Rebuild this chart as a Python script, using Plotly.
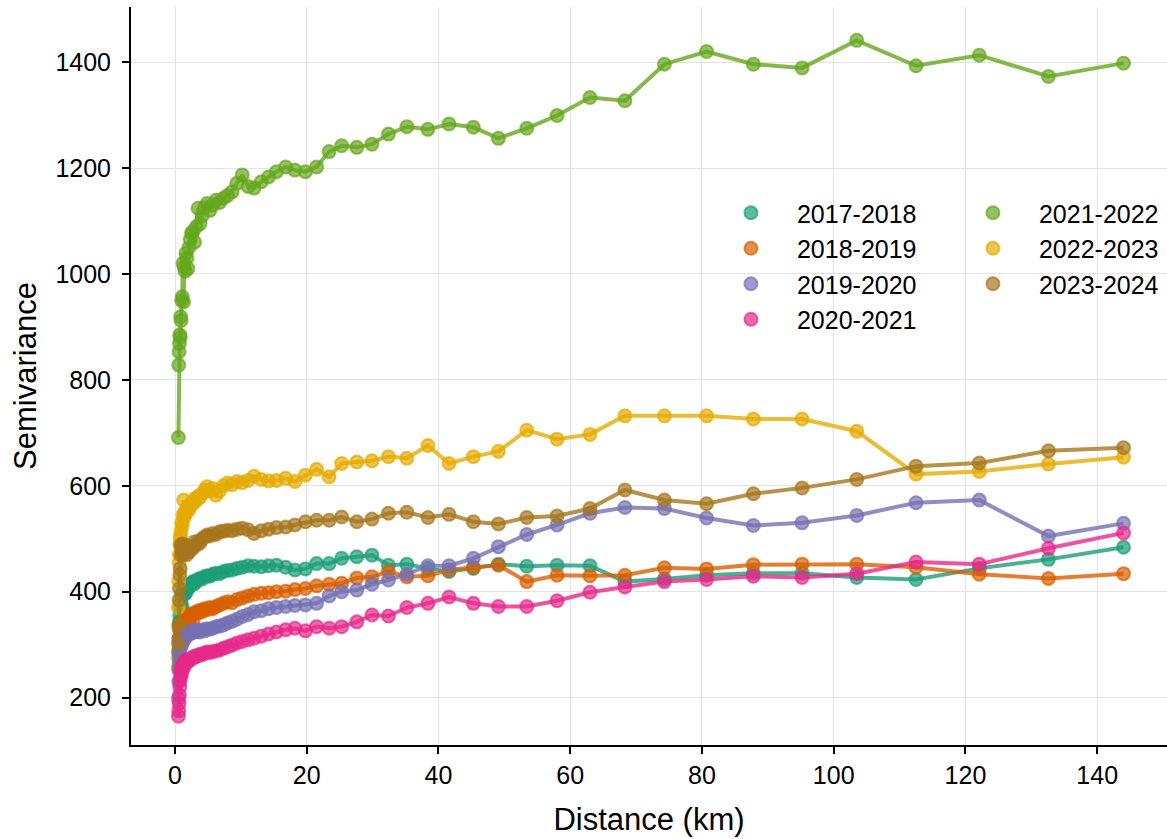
import plotly.graph_objects as go

# Lag-bin centres (km) shared by every season
distance_km = [
    0.52, 0.57, 0.62, 0.67, 0.73, 0.79, 0.86, 0.93, 1.01, 1.10,
    1.20, 1.30, 1.41, 1.53, 1.66, 1.81, 1.96, 2.13, 2.31, 2.51,
    2.73, 2.96, 3.22, 3.49, 3.79, 4.12, 4.47, 4.86, 5.28, 5.73,
    6.22, 6.76, 7.34, 7.97, 8.66, 9.40, 10.2, 11.1, 12.0, 13.1,
    14.2, 15.4, 16.8, 18.2, 19.8, 21.5, 23.4, 25.3, 27.6, 29.9,
    32.4, 35.2, 38.4, 41.6, 45.3, 49.1, 53.4, 58.0, 63.0, 68.3,
    74.3, 80.7, 87.8, 95.2, 103.5, 112.5, 122.1, 132.6, 144.0,
]

season_labels = ["2017-2018", "2018-2019", "2019-2020", "2020-2021",
                 "2021-2022", "2022-2023", "2023-2024"]

sv_2017_2018 = [
    286, 312, 330, 343, 355, 340, 368, 380, 395, 370,
    400, 406, 395, 402, 398, 405, 410, 408, 412, 416,
    419, 415, 420, 423, 425, 424, 428, 430, 429, 433,
    435, 434, 438, 440, 441, 444, 446, 449, 448, 447,
    449, 450, 446, 441, 443, 453, 453, 463, 466, 469,
    450, 452, 444, 438, 444, 452, 448, 450, 449, 419,
    424, 431, 435, 435, 427, 423, 444, 461, 484,
]
sv_2018_2019 = [
    255, 275, 293, 312, 300, 325, 331, 318, 335, 340,
    330, 345, 338, 350, 343, 352, 347, 355, 350, 358,
    345, 359, 362, 360, 365, 362, 368, 366, 370, 368,
    372, 375, 378, 381, 379, 385, 388, 392, 395, 397,
    398, 400, 401, 404, 406, 411, 414, 416, 426, 428,
    438, 428, 430, 441, 446, 450, 419, 431, 430, 431,
    445, 443, 451, 452, 452, 446, 433, 425, 434,
]
sv_2019_2020 = [
    198, 230, 264, 250, 280, 290, 305, 298, 310, 302,
    315, 308, 318, 312, 322, 324, 318, 320, 325, 322,
    326, 324, 328, 325, 324, 328, 326, 330, 329, 331,
    334, 335, 337, 341, 344, 348, 353, 357, 362, 364,
    368, 370, 372, 374, 375, 378, 392, 400, 403, 414,
    422, 433, 449, 449, 463, 485, 508, 526, 548, 559,
    557, 539, 525, 530, 544, 568, 573, 505, 529,
]
sv_2020_2021 = [
    165, 175, 189, 205, 220, 232, 240, 252, 245, 258,
    262, 255, 266, 270, 265, 271, 268, 272, 271, 274,
    276, 278, 277, 280, 282, 281, 284, 286, 285, 287,
    288, 290, 293, 296, 299, 303, 306, 309, 312, 316,
    320, 324, 328, 331, 326, 334, 331, 334, 343, 356,
    354, 370, 378, 390, 378, 372, 372, 383, 399, 409,
    419, 423, 429, 427, 434, 456, 452, 482, 511,
]
sv_2021_2022 = [
    691, 828, 853, 869, 885, 880, 919, 912, 950, 957,
    1020, 947, 1013, 1005, 1039, 1030, 1010, 1050, 1065, 1077,
    1080, 1060, 1089, 1124, 1095, 1110, 1125, 1133, 1120, 1130,
    1139, 1135, 1143, 1148, 1155, 1171, 1187, 1165, 1162, 1174,
    1183, 1193, 1202, 1196, 1193, 1202, 1231, 1242, 1239, 1245,
    1264, 1278, 1273, 1283, 1277, 1256, 1275, 1299, 1333, 1327,
    1396, 1420, 1396, 1389, 1441, 1393, 1413, 1373, 1398,
]
sv_2022_2023 = [
    370, 420, 455, 470, 490, 505, 500, 515, 530, 525,
    545, 573, 540, 552, 548, 556, 560, 555, 562, 568,
    566, 575, 572, 580, 578, 585, 592, 598, 590, 595,
    582, 590, 600, 605, 602, 608, 606, 610, 618, 612,
    609, 610, 614, 608, 620, 631, 617, 642, 645, 647,
    655, 652, 676, 642, 655, 665, 705, 688, 697, 732,
    732, 732, 726, 726, 703, 622, 627, 641, 654,
]
sv_2023_2024 = [
    302, 337, 384, 406, 432, 444, 488, 469, 480, 490,
    470, 485, 475, 488, 478, 470, 482, 475, 480, 485,
    482, 494, 488, 495, 492, 500, 503, 507, 505, 510,
    508, 513, 514, 516, 515, 518, 520, 517, 510, 515,
    518, 521, 522, 526, 532, 535, 535, 541, 532, 537,
    548, 550, 540, 546, 532, 528, 540, 543, 557, 592,
    573, 566, 585, 596, 612, 637, 643, 666, 672,
]

season_values = [sv_2017_2018, sv_2018_2019, sv_2019_2020, sv_2020_2021,
                 sv_2021_2022, sv_2022_2023, sv_2023_2024]

# Dark2 qualitative palette
season_colors = ["#1b9e77", "#d95f02", "#7570b3", "#e7298a",
                 "#66a61e", "#e6ab02", "#a6761d"]


def rgba(hex_color, alpha):
    h = hex_color.lstrip("#")
    r, g, b = int(h[0:2], 16), int(h[2:4], 16), int(h[4:6], 16)
    return f"rgba({r},{g},{b},{alpha})"


FONT = "Liberation Sans, Arial, Helvetica, sans-serif"

fig = go.Figure()

for label, vals, col in zip(season_labels, season_values, season_colors):
    fig.add_trace(go.Scatter(
        x=distance_km, y=vals, mode="lines+markers", name=label,
        line=dict(color=rgba(col, 0.8), width=4),
        marker=dict(size=13, color=rgba(col, 0.7),
                    line=dict(color=rgba(col, 0.7), width=2)),
        showlegend=False,
    ))

# Marker-only legend entries, split into two columns
for i, (label, col) in enumerate(zip(season_labels, season_colors)):
    fig.add_trace(go.Scatter(
        x=[None], y=[None], mode="markers", name=label,
        marker=dict(size=13, color=rgba(col, 0.7),
                    line=dict(color=rgba(col, 0.7), width=2)),
        showlegend=True,
        legend="legend" if i < 4 else "legend2",
    ))

legend_style = dict(
    font=dict(family=FONT, size=25, color="#000000"),
    bgcolor="rgba(0,0,0,0)", borderwidth=0,
    yanchor="top", xanchor="left", itemwidth=82,
)

fig.update_layout(
    width=1167, height=839,
    margin=dict(l=131, r=0, t=7, b=94),
    paper_bgcolor="white", plot_bgcolor="white",
    font=dict(family=FONT, color="#000000"),
    legend=dict(x=0.554, y=0.752, **legend_style),
    legend2=dict(x=0.7876, y=0.752, **legend_style),
    xaxis=dict(
        range=[-6.68, 150.6], tickvals=[0, 20, 40, 60, 80, 100, 120, 140],
        showgrid=True, gridcolor="#e3e3e3", gridwidth=1, zeroline=False,
        showline=True, linecolor="#000000", linewidth=2,
        ticks="outside", ticklen=7, tickwidth=1.5, tickcolor="#000000",
        tickfont=dict(family=FONT, size=25),
        title=dict(text="Distance (km)", font=dict(family=FONT, size=31), standoff=20),
    ),
    yaxis=dict(
        range=[110.5, 1504], tickvals=[200, 400, 600, 800, 1000, 1200, 1400],
        showgrid=True, gridcolor="#e3e3e3", gridwidth=1, zeroline=False,
        showline=True, linecolor="#000000", linewidth=2,
        ticks="outside", ticklen=7, tickwidth=1.5, tickcolor="#000000",
        ticklabelstandoff=6,
        tickfont=dict(family=FONT, size=25),
        title=dict(text="Semivariance", font=dict(family=FONT, size=31), standoff=10),
    ),
)

fig.write_html("out.html")
